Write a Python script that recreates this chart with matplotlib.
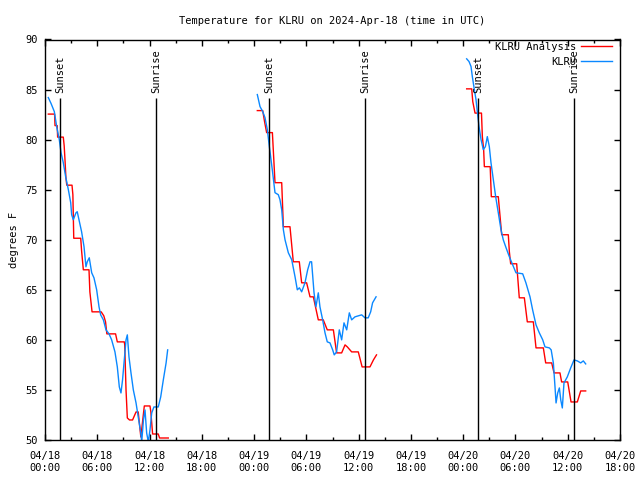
import numpy as np
import pandas as pd
import matplotlib
matplotlib.use("Agg")
import matplotlib.pyplot as plt
import matplotlib.dates as mdates
from matplotlib.ticker import MultipleLocator

# hours since 2024-04-18 00:00 UTC
start = pd.Timestamp("2024-04-18 00:00")

# KLRU observations (blue), one list pair per evening
obs_hours_1 = [0.38, 0.7, 1.07, 1.34, 1.64, 1.84, 2.1, 2.37, 2.68, 2.95, 3.06, 3.25, 3.56, 3.7,
               3.9, 4.2, 4.48, 4.7, 4.85, 5.08, 5.36, 5.62, 5.93, 6.2, 6.39, 6.7, 7.0, 7.35, 7.65,
               8.03, 8.3, 8.53, 8.72, 8.9, 9.1, 9.3, 9.45, 9.64, 9.87, 10.14, 10.45, 10.7, 11.0,
               11.1, 11.3, 11.48, 11.67, 11.86, 12.05, 12.25, 12.5, 13.0, 13.28, 13.58, 13.9, 14.08]
obs_temp_1 = [84.2, 83.6, 82.8, 81.3, 80.0, 78.7, 77.7, 76.3, 75.0, 73.7, 72.5, 72.0, 72.7, 72.8,
              72.0, 70.8, 69.3, 67.3, 67.8, 68.2, 66.7, 66.2, 65.0, 63.3, 62.5, 62.0, 61.0, 60.6, 60.0,
              58.8, 57.3, 55.3, 54.7, 56.0, 58.0, 60.0, 60.5, 58.3, 56.7, 55.0, 53.7, 52.3, 50.7,
              49.8, 52.0, 53.0, 50.7, 49.8, 51.0, 52.7, 53.3, 53.3, 54.3, 56.0, 57.7, 59.0]

obs_hours_2 = [24.37, 24.68, 24.99, 25.25, 25.52, 25.75, 25.9, 26.13, 26.4, 26.78, 26.97, 27.17,
               27.36, 27.55, 27.93, 28.32, 28.7, 28.96, 29.2, 29.46, 29.84, 30.15, 30.42, 30.6,
               30.88, 31.1, 31.37, 31.56, 31.87, 32.14, 32.4, 32.71, 33.02, 33.2, 33.47, 33.78,
               34.05, 34.32, 34.63, 34.93, 35.2, 35.58, 35.96, 36.35, 36.73, 37.1, 37.38, 37.6, 38.0]
obs_temp_2 = [84.5, 83.3, 82.8, 82.2, 81.0, 79.3, 78.3, 76.7, 74.7, 74.5, 74.0, 73.0,
              71.0, 70.0, 68.7, 68.0, 66.3, 65.0, 65.2, 64.8, 65.7, 67.0, 67.8, 67.8,
              64.7, 63.3, 64.7, 63.3, 62.0, 60.7, 59.8, 59.7, 59.0, 58.5, 58.8, 61.0,
              60.0, 61.7, 61.0, 62.7, 62.0, 62.3, 62.4, 62.5, 62.2, 62.2, 62.8, 63.7, 64.3]

obs_hours_3 = [48.4, 48.67, 48.9, 49.05, 49.28, 49.47, 49.66, 49.82, 50.05, 50.31, 50.55, 50.77,
               51.0, 51.19, 51.46, 51.73, 52.03, 52.34, 52.6, 52.88, 53.3, 53.68, 54.06, 54.83,
               55.2, 55.67, 55.97, 56.36, 56.74, 57.13, 57.39, 57.89, 58.1, 58.35, 58.54, 58.66,
               58.85, 59.04, 59.2, 59.38, 59.57, 59.95, 60.34, 60.72, 61.1, 61.49, 61.79, 62.06]
obs_temp_3 = [88.07, 87.8, 87.3, 86.3, 85.0, 84.0, 82.5, 81.3, 80.0, 79.0, 79.3, 80.3,
              79.3, 77.7, 76.0, 74.3, 72.7, 71.0, 70.0, 69.3, 68.3, 67.5, 66.7, 66.6,
              65.7, 64.3, 63.0, 61.5, 60.7, 60.0, 59.3, 59.2, 59.0, 57.7, 55.3, 53.7,
              54.7, 55.2, 54.0, 53.2, 55.7, 56.3, 57.2, 58.0, 57.9, 57.7, 57.9, 57.6]

# KLRU Analysis (red)
ana_hours_1 = [0.38, 1.1, 1.15, 1.4, 1.45, 2.1, 2.2, 2.3, 2.4, 2.5, 3.1, 3.2, 3.3, 4.1, 4.2, 4.4,
               5.05, 5.15, 5.4, 6.45, 6.6, 6.75, 6.95, 7.1, 8.1, 8.3, 9.1, 9.15, 9.3, 9.45, 9.7,
               10.05, 10.45, 10.7, 11.0, 11.4, 12.05, 12.15, 12.35, 13.0, 13.15, 14.15]
ana_temp_1 = [82.55, 82.55, 81.4, 81.4, 80.25, 80.25, 79.4, 77.9, 76.2, 75.45, 75.45, 74.5, 70.15,
              70.15, 68.9, 67.0, 67.0, 64.8, 62.8, 62.8, 62.6, 62.4, 61.8, 60.6, 60.6, 59.8, 59.8,
              59.5, 55.0, 52.2, 52.0, 52.0, 52.8, 52.8, 50.3, 53.4, 53.4, 52.8, 50.6, 50.6, 50.2, 50.2]

ana_hours_2 = [24.37, 24.99, 25.2, 25.44, 26.1, 26.25, 26.4, 27.17, 27.36, 28.12, 28.5, 29.19,
               29.46, 30.03, 30.42, 30.8, 31.37, 31.94, 32.4, 33.1, 33.47, 34.05, 34.44, 34.7,
               35.2, 35.96, 36.4, 37.3, 37.7, 38.05]
ana_temp_2 = [82.9, 82.9, 81.8, 80.7, 80.7, 78.2, 75.7, 75.7, 71.3, 71.3, 67.8, 67.8,
              65.7, 65.7, 64.3, 64.3, 62.0, 62.0, 61.0, 61.0, 58.7, 58.7, 59.5, 59.3,
              58.8, 58.8, 57.3, 57.3, 58.0, 58.5]

ana_hours_3 = [48.4, 48.98, 49.1, 49.36, 50.1, 50.2, 50.35, 50.43, 51.1, 51.23, 52.03, 52.42,
               53.18, 53.3, 53.45, 54.14, 54.44, 55.02, 55.36, 56.05, 56.36, 57.2, 57.47, 58.16,
               58.43, 59.11, 59.3, 60.0, 60.38, 61.1, 61.49, 62.06]
ana_temp_3 = [85.07, 85.07, 83.8, 82.65, 82.65, 80.3, 79.0, 77.3, 77.3, 74.3, 74.3, 70.5,
              70.5, 68.8, 67.6, 67.6, 64.2, 64.2, 61.8, 61.8, 59.2, 59.2, 57.7, 57.7,
              56.7, 56.7, 55.8, 55.8, 53.8, 53.8, 54.9, 54.9]

sunset_hours = [1.76, 25.75, 49.74]
sunrise_hours = [12.76, 36.77, 60.76]

RED = "#ff0000"
BLUE = "#0a88ff"
FONT = "DejaVu Sans Mono"
FS = 7.5


def to_time(hours):
    return start + pd.to_timedelta(np.array(hours), unit="h")


plt.rcParams["font.family"] = FONT
fig = plt.figure(figsize=(6.4, 4.8), dpi=100)
ax = fig.add_axes([45 / 640, 40 / 480, 575 / 640, 400.5 / 480])

ana = [(ana_hours_1, ana_temp_1), (ana_hours_2, ana_temp_2), (ana_hours_3, ana_temp_3)]
obs = [(obs_hours_1, obs_temp_1), (obs_hours_2, obs_temp_2), (obs_hours_3, obs_temp_3)]

for i, (h, t) in enumerate(ana):
    ax.plot(to_time(h), t, color=RED, lw=1.0, label="KLRU Analysis" if i == 0 else None)
for i, (h, t) in enumerate(obs):
    ax.plot(to_time(h), t, color=BLUE, lw=1.0, label="KLRU" if i == 0 else None)

top = 84.2
for h in sunset_hours:
    x = to_time([h])[0]
    ax.vlines(x, 50, top, color="black", lw=1.0)
    ax.text(x, top + 0.5, "Sunset", rotation=90, ha="center", va="bottom", fontsize=FS)
for h in sunrise_hours:
    x = to_time([h])[0]
    ax.vlines(x, 50, top, color="black", lw=1.0)
    ax.text(x, top + 0.5, "Sunrise", rotation=90, ha="center", va="bottom", fontsize=FS)

ax.set_xlim(start, start + pd.Timedelta(hours=66))
ax.set_ylim(50, 90)
ax.yaxis.set_major_locator(MultipleLocator(5))
ax.xaxis.set_major_locator(mdates.HourLocator(byhour=[0, 6, 12, 18]))
ax.xaxis.set_minor_locator(mdates.HourLocator(byhour=[3, 9, 15, 21]))
ax.xaxis.set_major_formatter(mdates.DateFormatter("%m/%d\n%H:%M"))

ax.tick_params(which="both", direction="in", top=True, right=True, labelsize=FS, width=1)
ax.tick_params(which="major", length=4.5)
ax.tick_params(axis="x", which="major", pad=8)
ax.tick_params(axis="y", which="major", pad=5)
ax.tick_params(which="minor", length=2.5)
for s in ax.spines.values():
    s.set_linewidth(1.0)

ax.set_ylabel("degrees F", fontsize=FS, labelpad=5)
ax.set_title("Temperature for KLRU on 2024-Apr-18 (time in UTC)", fontsize=FS, pad=11)

ax.legend(loc="upper right", bbox_to_anchor=(612 / 640, 1 - 42 / 480), bbox_transform=fig.transFigure,
          frameon=False, markerfirst=False, fontsize=FS, handlelength=3.0, handletextpad=0.4,
          labelspacing=0.45, borderpad=0, borderaxespad=0)

fig.savefig("out.png", dpi=100)
